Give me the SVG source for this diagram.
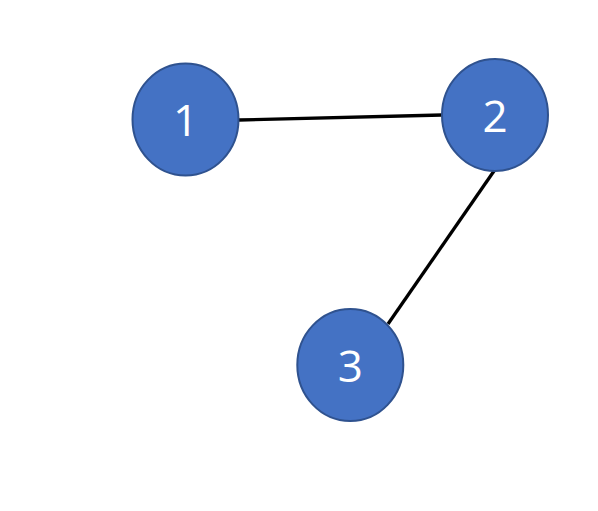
<svg xmlns="http://www.w3.org/2000/svg" width="598" height="511" viewBox="0 0 598 511">
<style>
.node ellipse{fill:#4472C4;stroke:#2F528F;stroke-width:2}
.node text{fill:#FFFFFF;font-family:"Open Sans","Liberation Sans",sans-serif;font-size:44px;text-anchor:middle}
.edge{stroke:#000;stroke-width:3.3;fill:none}
</style>
<rect width="598" height="511" fill="#fff"/>
<g id="connectors">
<line class="edge" x1="239" y1="120" x2="442" y2="115"/>
<line class="edge" x1="494" y1="171" x2="388" y2="324"/>
</g>
<g id="node1" class="node"><ellipse cx="185.5" cy="119.5" rx="53" ry="56"/><text x="185.5" y="136">1</text></g>
<g id="node2" class="node"><ellipse cx="495" cy="115" rx="53" ry="56"/><text x="495" y="132">2</text></g>
<g id="node3" class="node"><ellipse cx="350.3" cy="365" rx="53" ry="56"/><text x="350.3" y="382">3</text></g>
</svg>
